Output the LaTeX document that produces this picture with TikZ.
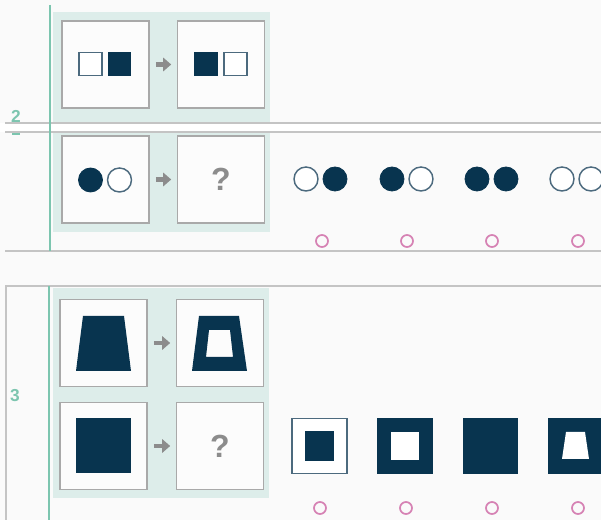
\documentclass[tikz,border=0pt]{standalone}
\usepackage{fontspec}
\setmainfont{Liberation Sans}
\usetikzlibrary{positioning,arrows.meta}
\definecolor{navy}{HTML}{08344F}
\definecolor{rim}{HTML}{4C6A7E}
\definecolor{cardgray}{HTML}{A9A9A9}
\definecolor{cardwhite}{HTML}{FCFCFC}
\definecolor{panelteal}{HTML}{DDEDEA}
\definecolor{tealline}{HTML}{7CC5AF}
\definecolor{rulegray}{HTML}{C4C4C4}
\definecolor{radiopink}{HTML}{D682B4}
\definecolor{qgray}{HTML}{8C8C8C}
\definecolor{pagebg}{HTML}{FAFAFA}

\begin{document}
\begin{tikzpicture}[x=0.75pt,y=-0.75pt,>=stealth,
        card/.style={rectangle,draw=cardgray,line width=1.2pt,fill=cardwhite,
                     minimum size=65.5pt,inner sep=0pt},
        tile/.style={rectangle,minimum size=17pt,inner sep=0pt},
        bigtile/.style={rectangle,minimum size=41pt,inner sep=0pt},
        dot/.style={circle,minimum size=18pt,inner sep=0pt},
        full/.style={fill=navy,draw=navy,line width=0.6pt},
        hollow/.style={fill=white,draw=rim,line width=1.1pt},
        radio/.style={circle,draw=radiopink,line width=1.3pt,
                      minimum size=9pt,inner sep=0pt},
        turn/.style={-{Triangle[length=6pt,width=10pt]},draw=qgray,fill=qgray,
                     line width=3.6pt,shorten >=4pt,shorten <=4.5pt},
        ask/.style={font=\fontsize{24}{24}\selectfont\bfseries,text=qgray},
        num/.style={font=\fontsize{13}{13}\selectfont\bfseries,text=tealline},
        rule/.style={draw=rulegray,line width=0.9pt}]
      \useasboundingbox (0,0) rectangle (601,520);
      \clip (0,0) rectangle (601,520);
      \fill[pagebg] (0,0) rectangle (601,520);
      %% -- task 2 ------------------------------------------
      \fill[panelteal] (53,12) rectangle (270,232);
      \fill[white] (0,123) rectangle (601,132);
      \draw[rule] (5,123) -- (601,123);
      \draw[rule] (5,132) -- (601,132);
      \draw[rule] (5,251) -- (601,251);
      \draw[draw=tealline,line width=1.6pt] (50,5) -- (50,251);
      \node[num] (n2) at (16,116) {2};
      \draw[draw=tealline,line width=1.6pt] (12,134) -- (20,134);
      \node[card] (a1) at (105.5,64.5) {};
      \node[card] (a2) at (221,64.5) {};
      \node[card] (b1) at (105.5,179.5) {};
      \node[card] (b2) at (221,179.5) {};
      \draw[turn] (a1.east) -- (a2.west);
      \draw[turn] (b1.east) -- (b2.west);
      \node[tile,hollow] (a1l) at (90.5,64) {};
      \node[tile,full]   (a1r) at (119.5,64) {};
      \node[tile,full]   (a2l) at (206,64) {};
      \node[tile,hollow] (a2r) at (235.5,64) {};
      \node[dot,full]   (b1l) at (90.5,180) {};
      \node[dot,hollow] (b1r) at (119.5,180) {};
      \node[ask] (q2) at (b2) {?};
      %% answers
      \node[dot,hollow] (c1l) at (306,179) {};
      \node[dot,full]   (c1r) at (335,179) {};
      \node[dot,full]   (c2l) at (392,179) {};
      \node[dot,hollow] (c2r) at (421,179) {};
      \node[dot,full]   (c3l) at (477,179) {};
      \node[dot,full]   (c4r) at (506,179) {};
      \node[dot,hollow] (c5l) at (562,179) {};
      \node[dot,hollow] (c5r) at (591,179) {};
      \foreach \x [count=\i] in {322,407,492,578}
        \node[radio] (r2\i) at (\x,241) {};
      %% -- task 3 ------------------------------------------
      \draw[rule] (601,286) -- (6,286) -- (6,520);
      \fill[panelteal] (53,288) rectangle (269,498);
      \draw[draw=tealline,line width=1.6pt] (49,286) -- (49,520);
      \node[num] (n3) at (15,396) {3};
      \node[card] (d1) at (103.5,343) {};
      \node[card] (d2) at (220,343) {};
      \node[card] (e1) at (103.5,446) {};
      \node[card] (e2) at (220,446) {};
      \draw[turn] (d1.east) -- (d2.west);
      \draw[turn] (e1.east) -- (e2.west);
      \fill[navy] (83,316) -- (124,316) -- (131,371) -- (76,371) -- cycle;
      \fill[navy,even odd rule] (199,316) -- (239,316) -- (247,371) -- (192,371) -- cycle
                                (209,330) -- (230,330) -- (233,357) -- (206,357) -- cycle;
      \node[rectangle,full,minimum size=41pt,inner sep=0pt] (e1s) at (103.5,445.5) {};
      \node[ask] (q3) at (e2) {?};
      %% answers
      \node[bigtile,hollow] (f1) at (319.5,446) {};
      \node[rectangle,full,minimum size=21.5pt,inner sep=0pt] (f1i) at (f1) {};
      \node[bigtile,full] (f2) at (405,446) {};
      \node[rectangle,fill=white,minimum size=21pt,inner sep=0pt] (f2i) at (f2) {};
      \node[bigtile,full] (f3) at (490.5,446) {};
      \node[bigtile,full] (f4) at (575.5,446) {};
      \fill[white] (566,432) -- (585,432) -- (589,459) -- (562,459) -- cycle;
      \foreach \x [count=\i] in {320,406,492,578}
        \node[radio] (r3\i) at (\x,508) {};
\end{tikzpicture}
\end{document}
